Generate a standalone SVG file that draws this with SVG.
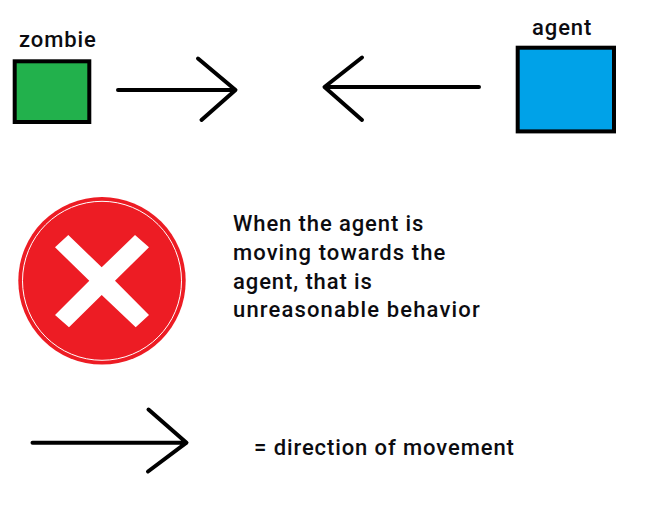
<svg xmlns="http://www.w3.org/2000/svg" width="647" height="507" viewBox="0 0 647 507">
<style>
text{font-family:"Roboto","Liberation Sans",sans-serif;font-weight:500;font-size:22px;fill:#0c0c10;letter-spacing:.9px}
.box{stroke:#000;stroke-width:4}
.arrow{fill:none;stroke:#000;stroke-width:4;stroke-linecap:round;stroke-linejoin:round}
</style>
<rect width="647" height="507" fill="#fff"/>
<g id="zombie">
<rect class="box" x="14.7" y="61.3" width="74.6" height="60.7" fill="#22b14c"/>
<text x="19" y="47">zombie</text>
</g>
<g id="agent">
<rect class="box" x="517.7" y="47.7" width="96.3" height="83.7" fill="#00a2e8"/>
<text x="532" y="35">agent</text>
</g>
<g id="connectors">
<path class="arrow" d="M118 90H235M198 58.500L235.500 90L201.500 120"/>
<path class="arrow" d="M479 87H325M362 57.500L324.500 87L362 120"/>
<path class="arrow" d="M32.500 442.700H186M148.500 409.500L186.500 442.700L148 471.500"/>
</g>
<g id="error">
<circle cx="102" cy="280.800" r="83.700" fill="#ed1c24"/>
<circle cx="102" cy="280.800" r="79.500" fill="none" stroke="#fff" stroke-width="1"/>
<path fill="#fff" d="M55 247.300L68.300 235L101.700 267.300L135 235L149 247.300L115 280.700L149 315L135.700 327.300L101.700 295L69 327.300L55 315L89.300 280.700Z"/>
</g>
<g id="description">
<text x="233" y="231">When the agent is</text>
<text x="233" y="260" style="letter-spacing:1.07px">moving towards the</text>
<text x="233" y="288.500">agent, that is</text>
<text x="233" y="317" style="letter-spacing:1.15px">unreasonable behavior</text>
</g>
<g id="legend">
<text x="254" y="455">= direction of movement</text>
</g>
</svg>
